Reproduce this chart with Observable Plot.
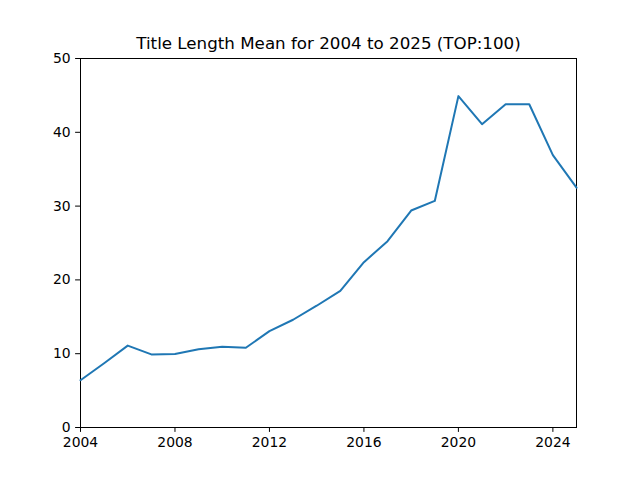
<!DOCTYPE html>
<html>
<head>
<meta charset="utf-8">
<script src="https://cdn.jsdelivr.net/npm/d3@7"></script>
<script src="https://cdn.jsdelivr.net/npm/@observablehq/plot@0.6"></script>
<style>
  html, body { margin: 0; padding: 0; background: #fff; }
  svg { display: block; }
</style>
</head>
<body>
<div id="chart"></div>
<script>
const years = [2004,2005,2006,2007,2008,2009,2010,2011,2012,2013,2014,2015,2016,2017,2018,2019,2020,2021,2022,2023,2024,2025];
const meanLength = [6.4,8.7,11.1,9.9,9.95,10.6,10.95,10.8,13.05,14.6,16.5,18.5,22.4,25.25,29.4,30.7,44.9,41.1,43.8,43.8,36.9,32.5];
const xTicks = [2004,2008,2012,2016,2020,2024];
const yTicks = [0,10,20,30,40,50];
const title = "Title Length Mean for 2004 to 2025 (TOP:100)";

const data = years.map((y, i) => ({year: y, value: meanLength[i]}));

const chart = Plot.plot({
  width: 640,
  height: 480,
  marginLeft: 80,
  marginRight: 64,
  marginTop: 58,
  marginBottom: 53,
  style: {fontFamily: "DejaVu Sans", fontSize: "13.9px", color: "#000", background: "#fff"},
  x: {domain: [2004, 2025], ticks: xTicks, tickFormat: "d", tickSize: 4.9, tickPadding: 4.9, label: null},
  y: {domain: [0, 50], ticks: yTicks, tickSize: 4.9, tickPadding: 4.9, label: null},
  marks: [
    Plot.frame({stroke: "#000", strokeWidth: 1}),
    Plot.line(data, {x: "year", y: "value", stroke: "#1f77b4", strokeWidth: 2}),
    Plot.axisX({ticks: xTicks, tickFormat: "d", tickSize: 4.9, tickPadding: 4.9, label: null, fontSize: 13.9}),
    Plot.axisY({ticks: yTicks, tickSize: 4.9, tickPadding: 4.9, label: null, fontSize: 13.9}),
    Plot.text([title], {frameAnchor: "top", dy: -10, text: d => d, fontSize: 16.7, fill: "#000", lineAnchor: "bottom"})
  ]
});
document.getElementById("chart").appendChild(chart);
</script>
</body>
</html>
